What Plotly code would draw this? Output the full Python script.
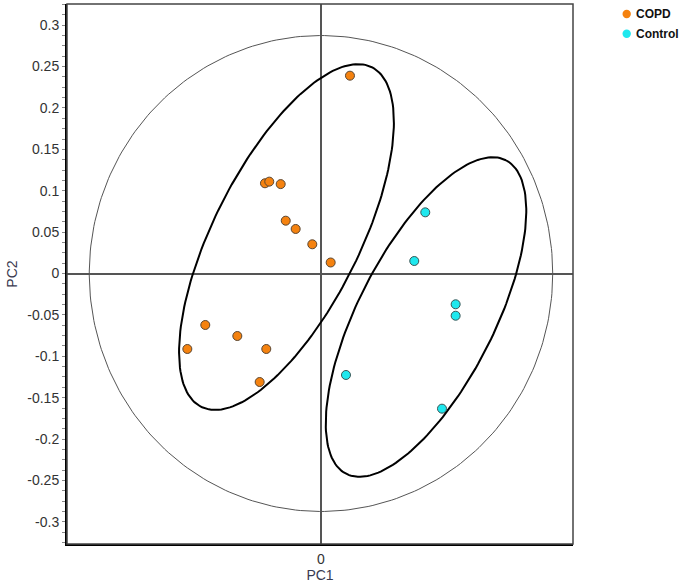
import numpy as np
import plotly.graph_objects as go

# Scores (PC1, PC2)
copd_pc1 = [-0.0677, -0.0625, -0.0487, -0.0426, -0.0306, -0.0105, 0.0117, 0.0350,
            -0.1398, -0.1011, -0.1615, -0.0661, -0.0741]
copd_pc2 = [0.109, 0.111, 0.108, 0.0638, 0.0538, 0.0353, 0.0133, 0.239,
            -0.0622, -0.0755, -0.0912, -0.0912, -0.1311]
ctrl_pc1 = [0.126, 0.1127, 0.1627, 0.1627, 0.0302, 0.1462]
ctrl_pc2 = [0.0739, 0.0151, -0.0372, -0.051, -0.1226, -0.1633]

# Confidence ellipses: center x, center y, semi-major, semi-minor, angle (deg)
copd_ellipse = [-0.0417, 0.0441, 0.2296, 0.0882, 63.3]
ctrl_ellipse = [0.1269, -0.0526, 0.2126, 0.0822, 63.0]
# Hotelling circle: rx, ry
hotelling = [0.280, 0.2875]

y_ticks = [-0.3, -0.25, -0.2, -0.15, -0.1, -0.05, 0, 0.05, 0.1, 0.15, 0.2, 0.25, 0.3]
y_tick_text = ["-0.3", "-0.25", "-0.2", "-0.15", "-0.1", "-0.05", "0",
               "0.05", "0.1", "0.15", "0.2", "0.25", "0.3"]

groups = ["COPD", "Control"]
colors = ["#F5820F", "#1FE8EE"]


def ellipse_xy(cx, cy, a, b, ang, n=200):
    t = np.linspace(0, 2 * np.pi, n)
    th = np.deg2rad(ang)
    x = cx + a * np.cos(t) * np.cos(th) - b * np.sin(t) * np.sin(th)
    y = cy + a * np.cos(t) * np.sin(th) + b * np.sin(t) * np.cos(th)
    return x, y


fig = go.Figure()

hx, hy = ellipse_xy(0, 0, hotelling[0], hotelling[1], 0, 300)
fig.add_trace(go.Scatter(x=hx, y=hy, mode="lines", line=dict(color="#555555", width=1),
                         showlegend=False, hoverinfo="skip"))
for e in (copd_ellipse, ctrl_ellipse):
    ex, ey = ellipse_xy(*e)
    fig.add_trace(go.Scatter(x=ex, y=ey, mode="lines", line=dict(color="black", width=2),
                             showlegend=False, hoverinfo="skip"))

fig.add_trace(go.Scatter(x=copd_pc1, y=copd_pc2, mode="markers", name=groups[0],
                         marker=dict(color=colors[0], size=9, line=dict(color="#5a4632", width=1)),
                         showlegend=False))
fig.add_trace(go.Scatter(x=ctrl_pc1, y=ctrl_pc2, mode="markers", name=groups[1],
                         marker=dict(color=colors[1], size=9, line=dict(color="#3a5656", width=1)),
                         showlegend=False))

font_family = "Liberation Sans, Arial, sans-serif"

# plot area: x 67..573 px, y 4..544 px
W_PLOT, H_PLOT = 506.0, 540.0
shapes = [dict(type="rect", xref="paper", yref="paper", x0=0, y0=0, x1=1, y1=1,
               line=dict(color="#444444", width=1.5), layer="above")]
annotations = []
for i, (g, c) in enumerate(zip(groups, colors)):
    cx = (626.7 - 67) / W_PLOT
    cy = 1 - (14 + 19.7 * i - 4) / H_PLOT
    rx = 4.2 / W_PLOT
    ry = 4.2 / H_PLOT
    shapes.append(dict(type="circle", xref="paper", yref="paper",
                       x0=cx - rx, x1=cx + rx, y0=cy - ry, y1=cy + ry,
                       fillcolor=c, line=dict(width=0)))
    annotations.append(dict(xref="paper", yref="paper", x=(634 - 67) / W_PLOT, y=cy,
                            xanchor="left", yanchor="middle", showarrow=False, text=f"<b>{g}</b>",
                            font=dict(family=font_family, size=12, color="#111111")))

fig.update_layout(
    width=685, height=584,
    margin=dict(l=67, r=112, t=4, b=40, autoexpand=False),
    plot_bgcolor="white", paper_bgcolor="white",
    font=dict(family=font_family, size=14, color="#333333"),
    showlegend=False,
    xaxis=dict(range=[-0.3069, 0.3045], showgrid=False, zeroline=True,
               zerolinecolor="#555555", zerolinewidth=1.5,
               tickvals=[0], ticktext=["0"], ticks="", automargin=False,
               ticklabelstandoff=1,
               showline=True, linecolor="black", linewidth=2,
               title=dict(text="PC1", standoff=2, font=dict(size=14, color="#3a3a50")),
               tickfont=dict(size=14, color="#333333")),
    yaxis=dict(range=[-0.3268, 0.3256], showgrid=False, zeroline=True,
               zerolinecolor="#555555", zerolinewidth=1.5, automargin=False,
               tickvals=y_ticks, ticktext=y_tick_text,
               ticks="outside", ticklen=3, tickcolor="#888888",
               minor=dict(dtick=0.0125, ticks="outside", ticklen=3, tickcolor="#888888"),
               showline=True, linecolor="black", linewidth=2,
               title=dict(text="PC2", standoff=6, font=dict(size=14, color="#3a3a50")),
               tickfont=dict(size=14, color="#333333")),
    shapes=shapes,
    annotations=annotations,
)

fig.write_html("out.html", config={"displayModeBar": False},
               post_script="document.body.style.margin='0';")
